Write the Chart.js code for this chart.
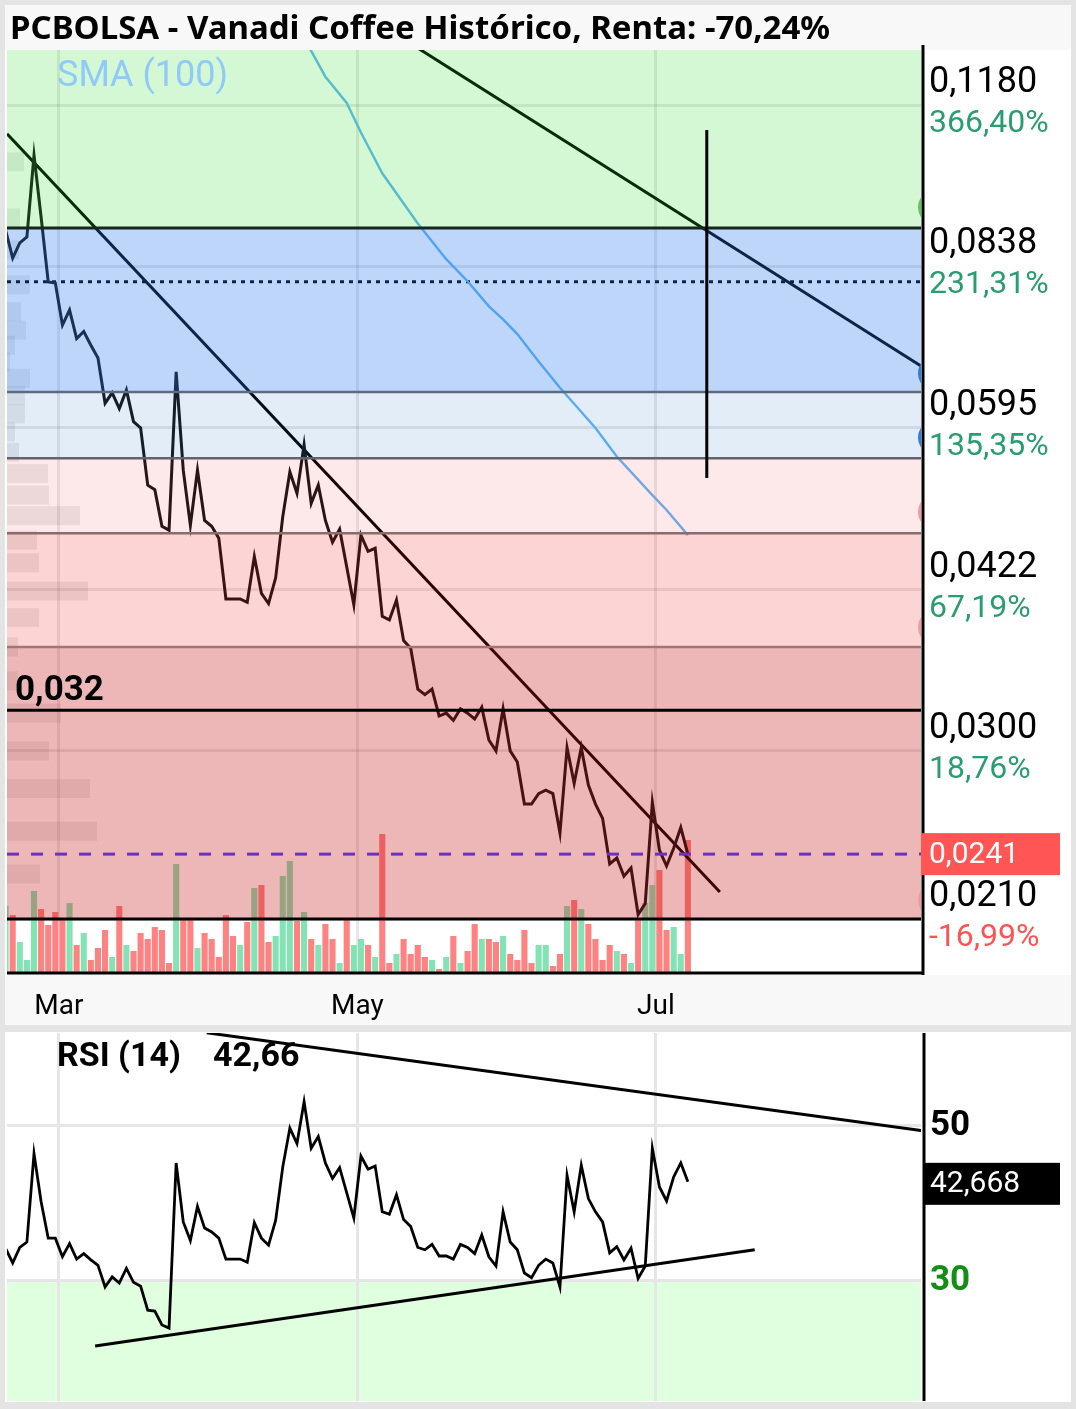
<!DOCTYPE html>
<html lang="es">
<head>
<meta charset="utf-8">
<title>PCBOLSA - Vanadi Coffee</title>
<script src="https://cdn.jsdelivr.net/npm/chart.js@4.4.1/dist/chart.umd.min.js"></script>
<style>
  body { margin: 0; width: 1076px; height: 1409px; background: #e4e4e4; position: relative; overflow: hidden; }
  .bloque { position: absolute; left: 5px; width: 1066px; }
  canvas { position: absolute; left: 0; }
  #titulo { position: absolute; left: 10px; top: 7px; font: bold 33px 'Noto Sans', sans-serif; line-height: 40px; color: #000; white-space: nowrap; }
</style>
</head>
<body>
<div class="bloque" style="top:5px;height:1020px;background:#fff"></div>
<div class="bloque" style="top:5px;height:45px;background:#f8f8f8"></div>
<div class="bloque" style="top:975px;height:50px;background:#f8f8f8"></div>
<div class="bloque" style="top:1032px;height:370px;background:#fff"></div>
<canvas id="grafPrecio" width="1076" height="1030" style="top:0"></canvas>
<canvas id="grafRsi" width="1076" height="379" style="top:1030px"></canvas>
<div id="titulo">PCBOLSA - Vanadi Coffee Histórico, Renta: -70,24%</div>
<script>
// sesiones 0..96 (dias habiles, feb -> jul). null = sesion sin vertice visible
const precio = [0.0905, 0.0853, 0.0881, 0.0892, 0.1061, 0.0930, 0.0811, 0.0809, 0.0740, 0.0764,
  0.0719, 0.0730, 0.0709, 0.0690, 0.0627, 0.0641, 0.0620, 0.0645, 0.0603, 0.0595,
  0.0527, 0.0522, 0.0483, 0.0479, 0.0670, 0.0544, 0.0484, 0.0544, 0.0489, 0.0483,
  0.0471, 0.0414, null, 0.0414, 0.0411, 0.0453, 0.0419, 0.0410, 0.0433, 0.0493,
  0.0542, 0.0518, 0.0574, 0.0507, 0.0527, 0.0489, 0.0467, 0.0480, null, 0.0409,
  0.0474, 0.0458, 0.0461, 0.0399, 0.0396, 0.0413, 0.0379, 0.0373, 0.0342, 0.0338,
  0.0342, 0.0323, 0.0325, 0.0320, 0.0328, 0.0325, 0.0321, 0.0329, 0.0307, 0.0300,
  0.0328, 0.0300, 0.0293, 0.0268, 0.0268, 0.0274, 0.0276, 0.0274, 0.0252, 0.0302,
  0.0280, 0.0302, 0.0279, 0.0268, 0.0260, 0.0236, 0.0239, 0.0230, 0.0234, 0.0212,
  0.0217, 0.0269, 0.0243, 0.0235, 0.0244, 0.0255, 0.0241];

const rsi = [34.1, 32.2, 34.2, 34.9, 46.3, 40.1, 35.4, 35.4, 33.0, 34.7,
  32.7, 33.4, 32.6, 31.9, 29.1, 30.4, 29.6, 31.5, 29.7, 29.2,
  26.1, 26.0, 24.2, 23.8, 45.1, 37.5, 35.1, 39.5, 36.7, 36.2,
  35.4, 32.7, null, 32.7, 32.3, 37.4, 35.4, 34.5, 37.7, 44.6,
  49.6, 47.6, 53.0, 47.0, 48.5, 45.1, 43.1, 44.5, null, 38.0,
  46.0, 44.3, 44.7, 38.8, 38.5, 41.0, 37.8, 36.9, 34.2, 33.9,
  34.6, 33.1, 33.1, 32.7, 34.6, 34.2, 33.4, 35.8, 33.0, 31.8,
  38.8, 34.9, 33.9, 30.9, 30.3, 31.9, 32.7, 32.2, 29.1, 43.5,
  38.8, 44.8, 40.5, 38.8, 37.5, 33.5, 34.3, 32.6, 34.1, 30.2,
  31.8, 47.0, 42.0, 40.2, 43.3, 45.1, 42.67];

// volumen en miles de titulos, y si la sesion cerro al alza (1) o a la baja (0)
const volumen = [66, 57, 30, 12, 81, 63, 47, 60, 52, 69,
  27, 39, 12, 24, 42, 15, 66, 27, 21, 39,
  33, 45, 42, 9, 108, 54, 54, 24, 39, 33,
  15, 57, 36, 27, 50, 84, 87, 30, 36, 96,
  111, 51, 60, 33, 27, 48, 33, 9, 54, 27,
  33, 27, 15, 138, 9, 18, 33, 18, 27, 15,
  12, 3, 15, 36, 9, 21, 48, 33, 33, 30,
  36, 18, 12, 42, 9, 27, 27, 6, 18, 66,
  72, 63, 48, 33, 12, 27, 21, 18, 9, 54,
  69, 87, 102, 42, 45, 18, 132];
const sube = [1, 0, 1, 1, 1, 0, 0, 0, 0, 1,
  0, 1, 0, 0, 0, 1, 0, 1, 0, 0,
  0, 0, 0, 0, 1, 0, 0, 1, 0, 0,
  0, 0, 0, 1, 0, 1, 0, 0, 1, 1,
  1, 0, 1, 0, 1, 0, 0, 1, 0, 1,
  1, 0, 1, 0, 0, 1, 0, 0, 0, 0,
  1, 0, 1, 0, 1, 0, 0, 1, 0, 0,
  1, 0, 0, 0, 0, 1, 1, 0, 0, 1,
  0, 1, 0, 0, 0, 0, 1, 0, 1, 0,
  1, 1, 0, 0, 1, 1, 0];

const smaSesion = [42, 45, 48, 50, 53, 58, 62, 65, 68, 70, 72, 75, 78, 83, 86, 91, 93, 96];
const sma = [0.1360, 0.1253, 0.1185, 0.1113, 0.1021, 0.0918, 0.0851, 0.0812, 0.0770, 0.0749,
  0.0726, 0.0685, 0.0648, 0.0595, 0.0560, 0.0516, 0.0500, 0.0474];

// perfil de volumen por precio
const perfilPrecio = [0.1046, 0.0929, 0.0868, 0.0806, 0.0761, 0.0732, 0.0709, 0.0684, 0.0661, 0.0637,
  0.0613, 0.0590, 0.0565, 0.0540, 0.0516, 0.0494, 0.0469, 0.0447, 0.0421, 0.0398,
  0.0374, 0.0348, 0.0325, 0.0300, 0.0277, 0.0253, 0.0231];
const perfilVol = [17, 13, 12, 23, 14, 19, 8, 3, 23, 18,
  18, 8, 12, 41, 42, 73, 30, 32, 81, 32,
  11, 11, 54, 42, 83, 90, 33];

const ticksPrecio = [0.0210, 0.0300, 0.0422, 0.0595, 0.0838, 0.1180];
const ticksPct = ['-16,99%', '18,76%', '67,19%', '135,35%', '231,31%', '366,40%'];
const mesesPos = [7.5, 49.5, 91.5];
const meses = ['Mar', 'May', 'Jul'];
const ticksRsi = [30, 50];

const limitesZona = [0.021, 0.0374, 0.0476, 0.0558, 0.0642, 0.0909];
const alertas = [0.0950, 0.0668, 0.0583, 0.0498, 0.0390, 0.02186];
const precioActual = 0.0241;
const nivel032 = 0.0327;
const nivelPunteado = 0.0811;
const rsiActual = 42.668;
// [sesion, valor, sesion, valor]
const tendPrecio = [[0.2, 0.1110, 100.5, 0.02224], [55, 0.1370, 128.8, 0.06785]];
const lineaVertical = [98.66, 0.0535, 0.1119];
const tendRsi = [[28.3, 61.9, 128.8, 49.3], [12.6, 21.5, 105.4, 33.9]];

// estilos
const coloresZona = ['rgba(198,18,18,0.3)', 'rgba(238,16,16,0.18)', 'rgba(235,35,35,0.1)',
  'rgba(22,105,197,0.12)', 'rgba(38,118,238,0.3)', 'rgba(40,215,40,0.2)'];
const coloresLimite = ['#000', '#a27474', '#8b6b6b', '#60656c', '#5d6b80', '#17261a'];
const coloresAlerta = ['#5cc85c', '#2a7de1', '#2a7de1', '#f59a9a', '#f59a9a', '#f59a9a'];
const fuente = 'Roboto';
const X_MIN = 0.2, X_MAX = 128.8;

const puntos = arr => arr.map((v, i) => v == null ? null : { x: i, y: v }).filter(p => p);
const recta = t => [{ x: t[0], y: t[1] }, { x: t[2], y: t[3] }];
const coma = (v, d) => v.toFixed(d).replace('.', ',');

function recortar(ctx, a) {
  ctx.beginPath();
  ctx.rect(a.left, a.top, a.width, a.height);
  ctx.clip();
}
function horizontal(ctx, a, yPx, color, ancho, trazo) {
  ctx.strokeStyle = color;
  ctx.lineWidth = ancho;
  ctx.setLineDash(trazo || []);
  ctx.beginPath();
  ctx.moveTo(a.left, yPx);
  ctx.lineTo(a.right, yPx);
  ctx.stroke();
}

const pluginPrecio = {
  id: 'zonasPrecio',
  beforeDatasetsDraw(chart) {
    const { ctx, chartArea: a, scales: { y } } = chart;
    ctx.save();
    recortar(ctx, a);
    ctx.fillStyle = 'rgba(100,100,100,0.12)';
    perfilPrecio.forEach((p, i) => {
      const yc = y.getPixelForValue(p);
      ctx.fillRect(a.left, yc - 9.5, perfilVol[i] * a.width / 914, 19);
    });
    horizontal(ctx, a, y.getPixelForValue(nivelPunteado), '#000', 3, [4, 5]);
    ctx.restore();
  },
  afterDatasetsDraw(chart) {
    const { ctx, chartArea: a, scales: { x, y } } = chart;
    ctx.save();
    recortar(ctx, a);
    limitesZona.forEach((lo, i) => {
      const hi = limitesZona[i + 1];
      const yb = y.getPixelForValue(lo);
      const yt = hi === undefined ? a.top : y.getPixelForValue(hi);
      ctx.fillStyle = coloresZona[i];
      ctx.fillRect(a.left, yt, a.width, yb - yt);
    });
    limitesZona.forEach((v, i) => {
      const w = (i === 0 || i === limitesZona.length - 1) ? 3 : 2.5;
      horizontal(ctx, a, y.getPixelForValue(v), coloresLimite[i], w);
    });
    horizontal(ctx, a, y.getPixelForValue(nivel032), '#000', 3);
    horizontal(ctx, a, y.getPixelForValue(precioActual), '#6a32c0', 3, [12, 12]);

    ctx.setLineDash([]);
    ctx.strokeStyle = '#000';
    ctx.lineWidth = 3;
    const xv = x.getPixelForValue(lineaVertical[0]);
    ctx.beginPath();
    ctx.moveTo(xv, y.getPixelForValue(lineaVertical[1]));
    ctx.lineTo(xv, y.getPixelForValue(lineaVertical[2]));
    ctx.stroke();

    alertas.forEach((v, i) => {
      ctx.fillStyle = coloresAlerta[i];
      ctx.beginPath();
      ctx.ellipse(a.right + 5, y.getPixelForValue(v), 8, 12.5, 0, 0, Math.PI * 2);
      ctx.fill();
    });

    ctx.textBaseline = 'middle';
    ctx.textAlign = 'left';
    ctx.fillStyle = '#000';
    ctx.font = 'bold 35px ' + fuente;
    ctx.fillText('0,032', 15, y.getPixelForValue(nivel032) - 19);
    ctx.fillStyle = '#90caf9';
    ctx.font = '36px ' + fuente;
    ctx.fillText('SMA (100)', 57, a.top + 27);
    ctx.restore();
  },
  afterDraw(chart) {
    const { ctx, chartArea: a, scales: { y } } = chart;
    ctx.save();
    ctx.strokeStyle = '#000';
    ctx.lineWidth = 3;
    ctx.beginPath();
    ctx.moveTo(a.right + 2, 45);
    ctx.lineTo(a.right + 2, a.bottom + 3);
    ctx.moveTo(a.left, a.bottom + 1);
    ctx.lineTo(a.right + 3, a.bottom + 1);
    ctx.stroke();

    ctx.textBaseline = 'middle';
    ctx.textAlign = 'left';
    ctx.font = '32px ' + fuente;
    ticksPrecio.forEach((v, i) => {
      ctx.fillStyle = ticksPct[i].startsWith('-') ? '#ff5252' : '#2a9d70';
      ctx.fillText(ticksPct[i], a.right + 8, y.getPixelForValue(v) + 19);
    });

    const yc = y.getPixelForValue(precioActual);
    ctx.fillStyle = '#ff5555';
    ctx.fillRect(a.right, yc - 21, 139, 42);
    ctx.fillStyle = '#fff';
    ctx.font = '30px ' + fuente;
    ctx.fillText(coma(precioActual, 4), a.right + 8, yc + 1);
    ctx.restore();
  }
};

new Chart(document.getElementById('grafPrecio'), {
  type: 'bar',
  data: {
    datasets: [
      {
        type: 'bar',
        data: volumen.map((v, i) => ({ x: i, y: v })),
        yAxisID: 'yv',
        backgroundColor: sube.map(s => s ? '#84e3b4' : '#ff8282'),
        barPercentage: 0.86,
        categoryPercentage: 1,
        order: 5
      },
      {
        type: 'line',
        data: smaSesion.map((s, i) => ({ x: s, y: sma[i] })),
        borderColor: '#64b5f6',
        borderWidth: 2.4,
        pointRadius: 0,
        order: 4
      },
      ...tendPrecio.map(t => ({
        type: 'line',
        data: recta(t),
        borderColor: '#000',
        borderWidth: 3,
        pointRadius: 0,
        order: 3
      })),
      {
        type: 'line',
        data: puntos(precio),
        borderColor: '#141414',
        borderWidth: 3,
        pointRadius: 0,
        spanGaps: true,
        order: 2
      }
    ]
  },
  options: {
    responsive: false,
    animation: false,
    devicePixelRatio: 1,
    layout: { padding: { left: 7, top: 50, right: 0, bottom: 0 } },
    plugins: { legend: { display: false }, tooltip: { enabled: false } },
    scales: {
      x: {
        type: 'linear',
        min: X_MIN,
        max: X_MAX,
        offset: false,
        grid: { color: 'rgba(0,0,0,0.09)', lineWidth: 3, drawTicks: false, offset: false },
        border: { display: false },
        afterBuildTicks: s => { s.ticks = mesesPos.map(v => ({ value: v })); },
        afterFit: s => { s.height = 58; },
        ticks: {
          autoSkip: false,
          maxRotation: 0,
          padding: 18,
          color: '#000',
          font: { family: fuente, size: 28 },
          callback: v => meses[mesesPos.indexOf(v)] || ''
        }
      },
      y: {
        type: 'logarithmic',
        position: 'right',
        min: 0.01877,
        max: 0.1326,
        grid: { color: 'rgba(0,0,0,0.09)', lineWidth: 3, drawTicks: false },
        border: { display: false },
        afterBuildTicks: s => { s.ticks = ticksPrecio.map(v => ({ value: v })); },
        afterFit: s => { s.width = 155; },
        ticks: {
          autoSkip: false,
          padding: 8,
          labelOffset: -22,
          color: '#000',
          font: { family: fuente, size: 36 },
          callback: v => coma(Number(v), 4)
        }
      },
      yv: { type: 'linear', display: false, min: 0, max: 922 }
    }
  },
  plugins: [pluginPrecio]
});

const pluginRsi = {
  id: 'zonasRsi',
  beforeDraw(chart) {
    const { ctx, chartArea: a, scales: { y } } = chart;
    ctx.save();
    ctx.fillStyle = '#dfffdf';
    const y30 = y.getPixelForValue(30);
    ctx.fillRect(a.left, y30, a.width, a.bottom - y30);
    ctx.restore();
  },
  afterDraw(chart) {
    const { ctx, chartArea: a, scales: { y } } = chart;
    ctx.save();
    ctx.strokeStyle = '#000';
    ctx.lineWidth = 3;
    ctx.beginPath();
    ctx.moveTo(a.right + 3, a.top);
    ctx.lineTo(a.right + 3, a.bottom);
    ctx.stroke();

    ctx.textBaseline = 'middle';
    ctx.textAlign = 'left';
    ctx.font = 'bold 35px ' + fuente;
    ticksRsi.forEach(v => {
      ctx.fillStyle = v === 30 ? '#138f13' : '#000';
      ctx.fillText(String(v), a.right + 9, y.getPixelForValue(v) + 1);
    });

    ctx.fillStyle = '#000';
    ctx.font = 'bold 34px ' + fuente;
    ctx.fillText('RSI (14)', 57, a.top + 24);
    ctx.fillText(coma(Math.floor(rsiActual * 100) / 100, 2), 213, a.top + 24);

    const yc = y.getPixelForValue(rsiActual) + 2;
    ctx.fillRect(a.right + 2, yc - 21, 137, 42);
    ctx.fillStyle = '#fff';
    ctx.font = '30px ' + fuente;
    ctx.fillText(coma(rsiActual, 3), a.right + 9, yc + 1);
    ctx.restore();
  }
};

new Chart(document.getElementById('grafRsi'), {
  type: 'line',
  data: {
    datasets: [
      { data: puntos(rsi), borderColor: '#000', borderWidth: 2.8, pointRadius: 0, spanGaps: true },
      ...tendRsi.map(t => ({ data: recta(t), borderColor: '#000', borderWidth: 3, pointRadius: 0 }))
    ]
  },
  options: {
    responsive: false,
    animation: false,
    devicePixelRatio: 1,
    layout: { padding: { left: 7, top: 3, right: 0, bottom: 0 } },
    plugins: { legend: { display: false }, tooltip: { enabled: false } },
    scales: {
      x: {
        type: 'linear',
        min: X_MIN,
        max: X_MAX,
        grid: { color: '#e6e6e6', lineWidth: 3, drawTicks: false },
        border: { display: false },
        afterBuildTicks: s => { s.ticks = mesesPos.map(v => ({ value: v })); },
        afterFit: s => { s.height = 8; },
        ticks: { display: false }
      },
      y: {
        position: 'right',
        min: 14.39,
        max: 61.87,
        grid: { color: '#e6e6e6', lineWidth: 3, drawTicks: false },
        border: { display: false },
        afterBuildTicks: s => { s.ticks = ticksRsi.map(v => ({ value: v })); },
        afterFit: s => { s.width = 155; },
        ticks: { display: false }
      }
    }
  },
  plugins: [pluginRsi]
});
</script>
</body>
</html>
